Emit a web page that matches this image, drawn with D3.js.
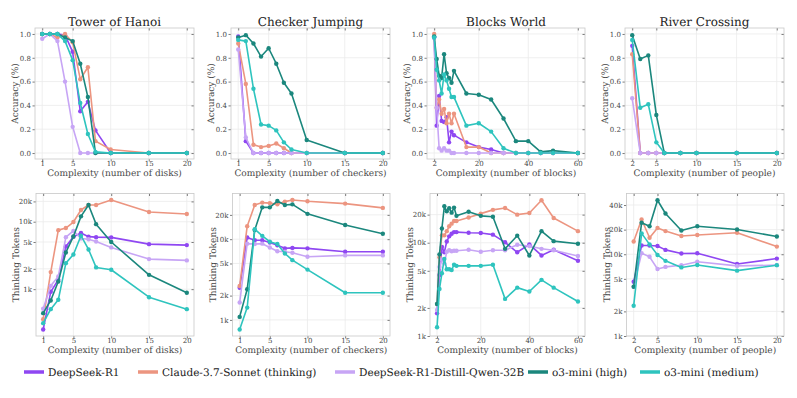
<!DOCTYPE html>
<html>
<head>
<meta charset="utf-8">
<script src="https://cdn.jsdelivr.net/npm/d3@7"></script>
<style>
    body { margin: 0; background: #fff; }
    svg { display: block; font-family: 'DejaVu Serif', serif; text-rendering: geometricPrecision; }
</style>
</head>
<body>
<svg id="chart" width="797" height="398"></svg>
<script>
const models = ['DeepSeek-R1', 'Claude-3.7-Sonnet (thinking)', 'DeepSeek-R1-Distill-Qwen-32B', 'o3-mini (high)', 'o3-mini (medium)'];
const modelColors = ['#8f47f2', '#ec9580', '#c7a5f5', '#1b877d', '#2ec4be'];

const puzzles = ['Tower of Hanoi', 'Checker Jumping', 'Blocks World', 'River Crossing'];
const complexityLabels = [
    'Complexity (number of disks)',
    'Complexity (number of checkers)',
    'Complexity (number of blocks)',
    'Complexity (number of people)'
];

// tower of hanoi
const hanoiN = [1, 2, 3, 4, 5, 6, 7, 8, 10, 15, 20];
const hanoiAccuracy = [
    [1.0, 1.0, 1.0, 0.99, 0.85, 0.35, 0.43, 0.19, 0.0, 0.0, 0.0],
    [1.0, 1.0, 0.97, 1.0, 0.93, 0.62, 0.72, 0.10, 0.03, 0.0, 0.0],
    [0.96, 1.0, 0.94, 0.60, 0.22, 0.0, 0.0, 0.0, 0.0, 0.0, 0.0],
    [1.0, 1.0, 1.0, 0.97, 0.94, 0.75, 0.47, 0.0, 0.0, 0.0, 0.0],
    [1.0, 1.0, 1.0, 0.94, 0.78, 0.42, 0.16, 0.01, 0.0, 0.0, 0.0]
];
const hanoiTokens = [
    [252, 913, 1380, 4300, 6000, 6800, 6000, 5900, 5850, 4650, 4500],
    [358, 1790, 7500, 8050, 9900, 14900, 17700, 17700, 21000, 13900, 13000],
    [511, 1120, 1540, 5900, 7300, 5650, 5500, 5100, 4160, 2790, 2670],
    [441, 680, 1300, 3500, 6050, 12000, 17700, 9200, 5000, 1630, 883],
    [313, 505, 695, 2430, 3270, 6200, 3880, 2100, 1940, 760, 505]
];

// checker jumping
const checkerN = [1, 2, 3, 4, 5, 6, 7, 8, 10, 15, 20];
const checkerAccuracy = [
    [0.98, 0.10, 0.0, 0.0, 0.0, 0.0, 0.0, 0.0, 0.0, 0.0, 0.0],
    [0.92, 0.58, 0.07, 0.05, 0.06, 0.08, 0.04, 0.0, 0.0, 0.0, 0.0],
    [0.87, 0.13, 0.0, 0.0, 0.0, 0.0, 0.0, 0.0, 0.0, 0.0, 0.0],
    [0.97, 0.99, 0.92, 0.81, 0.88, 0.75, 0.59, 0.50, 0.11, 0.0, 0.0],
    [0.95, 0.94, 0.54, 0.24, 0.23, 0.19, 0.09, 0.03, 0.0, 0.0, 0.0]
];
const checkerTokens = [
    [2500, 10500, 9700, 9700, 9100, 8400, 7700, 7800, 7700, 7000, 7000],
    [2630, 14500, 26500, 28400, 28000, 27000, 29200, 30600, 29500, 27600, 24400],
    [1640, 8800, 8700, 8800, 7900, 7100, 7000, 6800, 6050, 6300, 6300],
    [1090, 2400, 13000, 24800, 24800, 29700, 26500, 27000, 20600, 15000, 11700],
    [760, 1420, 13300, 11000, 9300, 8700, 6650, 5500, 4200, 2170, 2170]
];

// blocks world
const blocksN = [2, 3, 4, 5, 6, 7, 8, 9, 10, 15, 20, 25, 30, 35, 40, 45, 50, 60];
const blocksAccuracy = [
    [0.97, 0.23, 0.48, 0.27, 0.26, 0.30, 0.09, 0.18, 0.15, 0.09, 0.05, 0.03, 0.0, 0.0, 0.0, 0.0, 0.0, 0.0],
    [1.0, 0.38, 0.45, 0.33, 0.37, 0.25, 0.33, 0.25, 0.33, 0.05, 0.05, 0.0, 0.0, 0.0, 0.0, 0.0, 0.0, 0.0],
    [0.97, 0.38, 0.04, 0.02, 0.04, 0.02, 0.02, 0.0, 0.0, 0.0, 0.0, 0.0, 0.0, 0.0, 0.0, 0.0, 0.0, 0.0],
    [0.98, 0.79, 0.65, 0.63, 0.83, 0.67, 0.63, 0.59, 0.69, 0.50, 0.49, 0.45, 0.29, 0.10, 0.10, 0.01, 0.02, 0.0],
    [0.97, 0.70, 0.61, 0.50, 0.66, 0.61, 0.54, 0.47, 0.47, 0.23, 0.25, 0.18, 0.04, 0.0, 0.0, 0.0, 0.0, 0.0]
];
const blocksTokens = [
    [1750, 4500, 9000, 7900, 10300, 11700, 12500, 13000, 13000, 12800, 12700, 12200, 10100, 7900, 9600, 7300, 8400, 6400],
    [2200, 7000, 12000, 12000, 13300, 15000, 16000, 17100, 17100, 18600, 20500, 22500, 23600, 20000, 20800, 28500, 18400, 13300],
    [1900, 5500, 6600, 6000, 8000, 8300, 8100, 8200, 8200, 8400, 8000, 8300, 8300, 9500, 9200, 8600, 8300, 7200],
    [2200, 7500, 14200, 24600, 21700, 23400, 21000, 23800, 19400, 21500, 19400, 19000, 8600, 11900, 7300, 13300, 10400, 9750],
    [1240, 3200, 4700, 6700, 5200, 5200, 5100, 5800, 5650, 5650, 5650, 5800, 2500, 3300, 3000, 4000, 3300, 2340]
];

// river crossing
const riverN = [2, 3, 4, 5, 6, 8, 10, 15, 20];
const riverAccuracy = [
    [0.90, 0.0, 0.0, 0.0, 0.0, 0.0, 0.0, 0.0, 0.0],
    [0.83, 0.0, 0.0, 0.0, 0.0, 0.0, 0.0, 0.0, 0.0],
    [0.46, 0.0, 0.0, 0.0, 0.0, 0.0, 0.0, 0.0, 0.0],
    [0.99, 0.79, 0.82, 0.32, 0.0, 0.0, 0.0, 0.0, 0.0],
    [0.95, 0.38, 0.41, 0.09, 0.0, 0.0, 0.0, 0.0, 0.0]
];
const riverTokens = [
    [4600, 12800, 12800, 12600, 11300, 10200, 10300, 7600, 8850],
    [14300, 26600, 15900, 21000, 19200, 16700, 17200, 18300, 12400],
    [4000, 10300, 9300, 6600, 7000, 7350, 8100, 7200, 7350],
    [4000, 24300, 22000, 45700, 31500, 19500, 22000, 20100, 16500],
    [2340, 18000, 13200, 9800, 8300, 6900, 7400, 6300, 7350]
];

const accuracyTicks = [0, 0.2, 0.4, 0.6, 0.8, 1.0];
const tokenTicks = [1000, 2000, 5000, 10000, 20000, 40000];
const tokenTickLabels = ['1k', '2k', '5k', '10k', '20k', '40k'];
const complexityTicks = [[1, 5, 10, 15, 20], [1, 5, 10, 15, 20], [2, 20, 40, 60], [2, 5, 10, 15, 20]];
const tokenFloor = [null, null, 1000, 1000];

const complexityN = [hanoiN, checkerN, blocksN, riverN];
const accuracyData = [hanoiAccuracy, checkerAccuracy, blocksAccuracy, riverAccuracy];
const tokenData = [hanoiTokens, checkerTokens, blocksTokens, riverTokens];

// frame boxes, px
const topRow = { y0: 28, y1: 159 };
const bottomRow = { y0: 193.5, y1: 336 };
const topCols = [[35, 194], [231, 390], [427, 585], [625, 784]];
const bottomCols = [[36, 194], [232.5, 390], [430, 585], [626.5, 784]];
const legendX = [24, 138, 335, 528, 640];

const svg = d3.select('#chart');

function padded(lo, hi) {
    const pad = (hi - lo) * 0.05;
    return [lo - pad, hi + pad];
}

function drawPanel(i, cols, row, series, y, yTicks, yFormat, yLabel, title) {
    const xs = complexityN[i];
    const x = d3.scaleLinear()
        .domain(padded(d3.min(xs), d3.max(xs)))
        .range(cols);
    y.range([row.y1, row.y0]);

    const g = svg.append('g');

    // grid
    g.selectAll('.gx').data(complexityTicks[i]).join('line')
        .attr('x1', d => x(d)).attr('x2', d => x(d))
        .attr('y1', row.y0).attr('y2', row.y1)
        .attr('stroke', '#ebebeb').attr('stroke-width', 0.8);
    g.selectAll('.gy').data(yTicks).join('line')
        .attr('x1', cols[0]).attr('x2', cols[1])
        .attr('y1', d => y(d)).attr('y2', d => y(d))
        .attr('stroke', '#ebebeb').attr('stroke-width', 0.8);

    // axes
    const xAxis = d3.axisBottom(x).tickValues(complexityTicks[i]).tickSize(2.5).tickPadding(0);
    const yAxis = d3.axisLeft(y).tickValues(yTicks).tickFormat(yFormat).tickSize(2.5).tickPadding(1.5);

    const gx = g.append('g').attr('transform', `translate(0,${row.y1})`).call(xAxis);
    const gy = g.append('g').attr('transform', `translate(${cols[0]},0)`).call(yAxis);
    const gTop = g.append('g').attr('transform', `translate(0,${row.y0})`)
        .call(d3.axisBottom(x).tickValues(complexityTicks[i]).tickFormat('').tickSize(2.5));
    const gRight = g.append('g').attr('transform', `translate(${cols[1]},0)`)
        .call(d3.axisLeft(y).tickValues(yTicks).tickFormat('').tickSize(2.5));

    [gx, gy, gTop, gRight].forEach(a => {
        a.select('.domain').remove();
        a.selectAll('.tick line').attr('stroke', '#444').attr('stroke-width', 0.7);
        a.selectAll('.tick text').attr('fill', '#444').style('font-family', 'DejaVu Serif').attr('font-size', 7);
    });

    g.append('rect')
        .attr('x', cols[0]).attr('y', row.y0)
        .attr('width', cols[1] - cols[0]).attr('height', row.y1 - row.y0)
        .attr('fill', 'none').attr('stroke', '#c8c8c8').attr('stroke-width', 0.8);

    // series
    const line = d3.line().x((d, j) => x(xs[j])).y(d => y(d));
    series.forEach((vals, k) => {
        g.append('path')
            .datum(vals)
            .attr('d', line)
            .attr('fill', 'none')
            .attr('stroke', modelColors[k])
            .attr('stroke-width', 1.6)
            .attr('stroke-linejoin', 'round');
        g.selectAll(null).data(vals).join('circle')
            .attr('cx', (d, j) => x(xs[j]))
            .attr('cy', d => y(d))
            .attr('r', 2.2)
            .attr('fill', modelColors[k]);
    });

    g.append('text')
        .attr('x', (cols[0] + cols[1]) / 2).attr('y', row.y1 + 17)
        .attr('text-anchor', 'middle').attr('font-size', 9).attr('fill', '#4a4a4a')
        .text(complexityLabels[i]);

    g.append('text')
        .attr('transform', `translate(${cols[0] - 17},${(row.y0 + row.y1) / 2}) rotate(-90)`)
        .attr('text-anchor', 'middle').attr('font-size', 9).attr('fill', '#4a4a4a')
        .text(yLabel);

    if (title) {
        g.append('text')
            .attr('x', (cols[0] + cols[1]) / 2).attr('y', row.y0 - 2)
            .attr('text-anchor', 'middle').attr('font-size', 12).attr('fill', '#222')
            .text(title);
    }
}

puzzles.forEach((p, i) => {
    const yAcc = d3.scaleLinear().domain([-0.05, 1.05]);
    drawPanel(i, topCols[i], topRow, accuracyData[i], yAcc, accuracyTicks, d3.format('.1f'), 'Accuracy (%)', p);

    const all = tokenData[i].flat();
    const lo = Math.log10(tokenFloor[i] || d3.min(all));
    const hi = Math.log10(d3.max(all));
    const pad = (hi - lo) * 0.05;
    const dom = [Math.pow(10, tokenFloor[i] ? lo : lo - pad), Math.pow(10, hi + pad)];
    const yTok = d3.scaleLog().domain(dom);
    const ticks = tokenTicks.filter(t => t >= dom[0] && t <= dom[1]);
    drawPanel(i, bottomCols[i], bottomRow, tokenData[i], yTok, ticks,
        d => tokenTickLabels[tokenTicks.indexOf(d)], 'Thinking Tokens', null);
});

// legend
const legend = svg.append('g').attr('transform', 'translate(0,372)');
models.forEach((m, k) => {
    legend.append('rect')
        .attr('x', legendX[k]).attr('y', -1.75)
        .attr('width', 20).attr('height', 3.5)
        .attr('fill', modelColors[k]);
    legend.append('text')
        .attr('x', legendX[k] + 24).attr('y', 3.5)
        .attr('font-size', 10.5).attr('fill', '#222')
        .text(m);
});
</script>
</body>
</html>
